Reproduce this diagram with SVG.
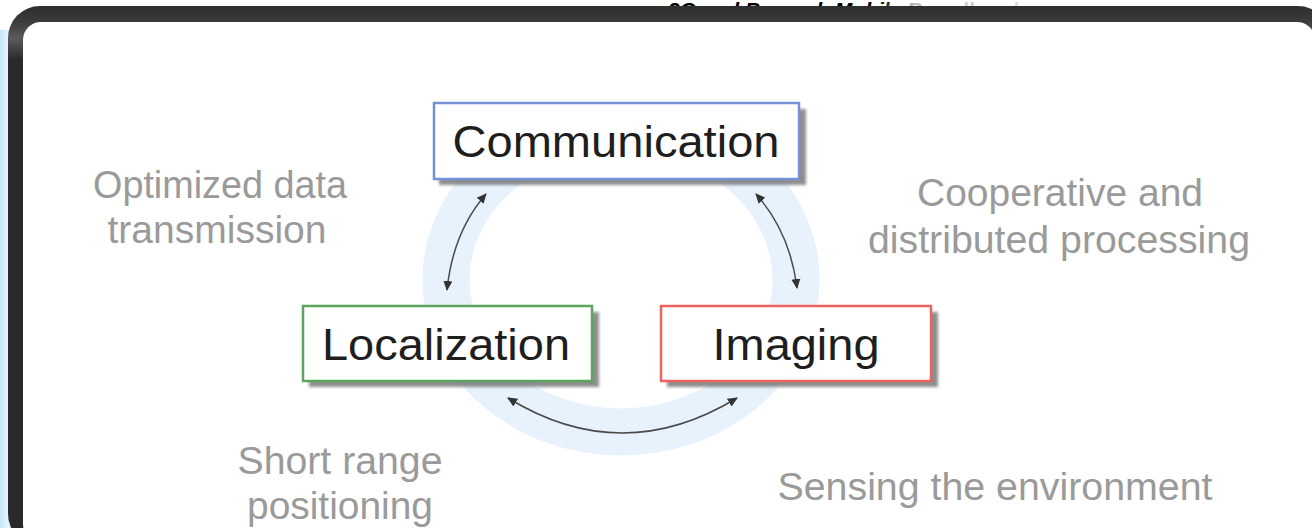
<svg xmlns="http://www.w3.org/2000/svg" width="1312" height="528" viewBox="0 0 1312 528">
  <defs>
    <linearGradient id="frameTop" x1="0" y1="0" x2="0" y2="1">
      <stop offset="0" stop-color="#2e2e2e"/>
      <stop offset="0.03" stop-color="#3c3c3c"/>
      <stop offset="0.06" stop-color="#5a5a5a"/>
      <stop offset="0.1" stop-color="#2a2a2a"/>
      <stop offset="1" stop-color="#2a2a2a"/>
    </linearGradient>
    <linearGradient id="glow" x1="0" y1="0" x2="1" y2="0">
      <stop offset="0" stop-color="#c4e8f8"/>
      <stop offset="1" stop-color="#eef8fd"/>
    </linearGradient>
    <linearGradient id="titleFade" x1="0" y1="0" x2="1" y2="0">
      <stop offset="0" stop-color="#000"/>
      <stop offset="0.6" stop-color="#000"/>
      <stop offset="0.7" stop-color="#bbb"/>
      <stop offset="1" stop-color="#ddd"/>
    </linearGradient>
    <filter id="shadowBlur" x="-5%" y="-20%" width="110%" height="140%">
      <feGaussianBlur stdDeviation="1.5"/>
    </filter>
    <marker id="ah" viewBox="0 0 10 10" refX="9" refY="5" markerWidth="10" markerHeight="10" markerUnits="userSpaceOnUse" orient="auto-start-reverse">
      <path d="M0,0.5 L10,5 L0,9.5 Z" fill="#333"/>
    </marker>
    <style>
      .box { fill: #ffffff; stroke-width: 2.5; }
      .shadow { fill: #7a7a7a; opacity: 0.85; filter: url(#shadowBlur); }
      .label { font-family: "Liberation Sans", Arial, sans-serif; font-size: 45px; fill: #1e1e1e; text-anchor: middle; }
      .note { font-family: "Liberation Sans", Arial, sans-serif; font-size: 38px; fill: #9a9a9a; text-anchor: middle; }
      .conn { fill: none; stroke: #4a4a4a; stroke-width: 1.5; marker-start: url(#ah); marker-end: url(#ah); }
    </style>
  </defs>

  <!-- background -->
  <rect x="0" y="0" width="1312" height="528" fill="#ffffff"/>
  <rect x="0" y="30" width="10" height="498" fill="url(#glow)"/>

  <!-- partially hidden title -->
  <text x="668" y="17" font-family="'Liberation Sans', Arial, sans-serif" font-size="21" font-weight="bold" font-style="italic" fill="url(#titleFade)">3G and Beyond: Mobile Broadband</text>

  <!-- frame -->
  <rect x="8" y="6" width="1322" height="540" rx="32" ry="32" fill="url(#frameTop)"/>
  <rect x="23" y="22" width="1292" height="520" rx="18" ry="18" fill="#ffffff"/>

  <!-- ring -->
  <ellipse cx="621" cy="280" rx="175" ry="152" fill="none" stroke="#e7f2fc" stroke-width="47"/>

  <!-- connectors -->
  <g id="connectors">
    <path class="conn" d="M486,194 Q453,232 447,290"/>
    <path class="conn" d="M756,194 Q790,232 797,288"/>
    <path class="conn" d="M508,398 Q622,468 737,398"/>
  </g>

  <!-- nodes -->
  <g id="node-communication">
    <rect class="shadow" x="439" y="109" width="367" height="76"/>
    <rect class="box" x="434" y="103" width="365" height="76" stroke="#7592d6"/>
    <text class="label" x="616" y="157" textLength="327" lengthAdjust="spacingAndGlyphs">Communication</text>
  </g>
  <g id="node-localization">
    <rect class="shadow" x="309" y="312" width="290" height="75"/>
    <rect class="box" x="303" y="306" width="289" height="75" stroke="#5aa45e"/>
    <text class="label" x="446" y="360" textLength="248" lengthAdjust="spacingAndGlyphs">Localization</text>
  </g>
  <g id="node-imaging">
    <rect class="shadow" x="667" y="312" width="271" height="75"/>
    <rect class="box" x="661" y="306" width="270" height="75" stroke="#ef6262"/>
    <text class="label" x="796" y="360" textLength="167" lengthAdjust="spacingAndGlyphs">Imaging</text>
  </g>

  <!-- annotations -->
  <g id="note-optimized">
    <text class="note" x="220" y="198" textLength="254" lengthAdjust="spacingAndGlyphs">Optimized data</text>
    <text class="note" x="217" y="243" textLength="219" lengthAdjust="spacingAndGlyphs">transmission</text>
  </g>
  <g id="note-cooperative">
    <text class="note" x="1060" y="206" textLength="286" lengthAdjust="spacingAndGlyphs">Cooperative and</text>
    <text class="note" x="1059" y="253" textLength="382" lengthAdjust="spacingAndGlyphs">distributed processing</text>
  </g>
  <g id="note-short">
    <text class="note" x="340" y="474" textLength="205" lengthAdjust="spacingAndGlyphs">Short range</text>
    <text class="note" x="340" y="519" textLength="186" lengthAdjust="spacingAndGlyphs">positioning</text>
  </g>
  <g id="note-sensing">
    <text class="note" x="995" y="500" textLength="435" lengthAdjust="spacingAndGlyphs">Sensing the environment</text>
  </g>
</svg>
